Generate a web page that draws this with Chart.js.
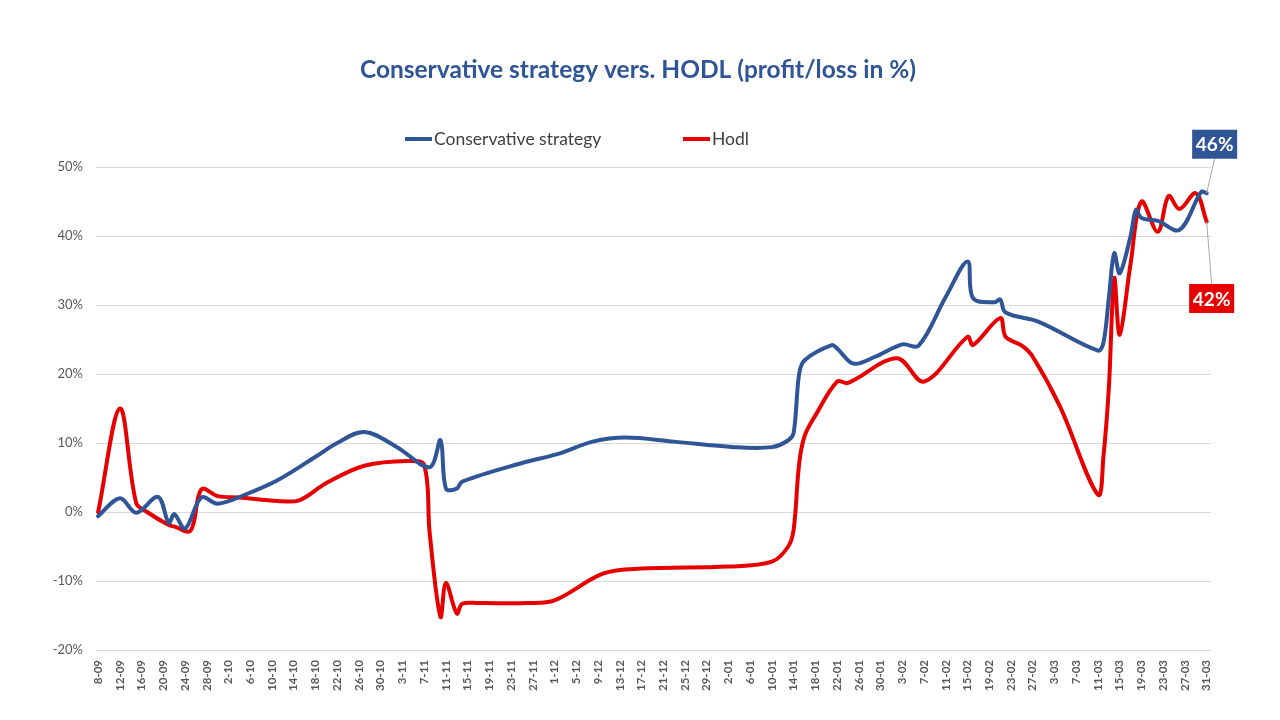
<!DOCTYPE html>
<html>
<head>
<meta charset="utf-8">
<script src="https://cdn.jsdelivr.net/npm/chart.js@4.4.1/dist/chart.umd.min.js"></script>
<style>
  html, body { margin: 0; padding: 0; background: #fff; }
  #wrap { width: 1280px; height: 720px; }
</style>
</head>
<body>
<div id="wrap"><canvas id="strategyChart" width="1280" height="720"></canvas></div>
<script>
// x axis tick labels (every 4 days)
const tickLabels = ['8-09', '12-09', '16-09', '20-09', '24-09', '28-09', '2-10', '6-10', '10-10', '14-10',
  '18-10', '22-10', '26-10', '30-10', '3-11', '7-11', '11-11', '15-11', '19-11', '23-11', '27-11',
  '1-12', '5-12', '9-12', '13-12', '17-12', '21-12', '25-12', '29-12', '2-01', '6-01', '10-01',
  '14-01', '18-01', '22-01', '26-01', '30-01', '3-02', '7-02', '11-02', '15-02', '19-02', '23-02',
  '27-02', '3-03', '7-03', '11-03', '15-03', '19-03', '23-03', '27-03', '31-03'];

const yTicks = [50, 40, 30, 20, 10, 0, -10, -20];

// Conservative strategy
const blueDates = ['8-09', '12-09', '15-09', '19-09', '21-09', '22-09', '24-09', '27-09', '30-09', '5-10',
  '11-10', '18-10', '22-10', '27-10', '2-11', '8-11', '10-11', '11-11', '13-11', '14-11', '25-11',
  '2-12', '8-12', '14-12', '23-12', '3-01', '10-01', '13-01', '14-01', '15-01', '16-01', '21-01',
  '22-01', '25-01', '29-01', '3-02', '6-02', '11-02', '15-02', '16-02', '20-02', '21-02', '22-02',
  '28-02', '11-03', '12-03', '13-03', '14-03', '15-03', '17-03', '18-03', '19-03', '22-03', '26-03',
  '30-03', '31-03'];
const blueValues = [-0.6, 2.0, -0.1, 2.2, -1.6, -0.3, -2.4, 2.1, 1.2, 2.5,
  4.6, 8.0, 10.0, 11.6, 9.4, 6.5, 10.4, 3.4, 3.4, 4.4, 7.1,
  8.5, 10.2, 10.8, 10.2, 9.4, 9.4, 10.4, 11.5, 20.0, 22.0, 24.2,
  23.7, 21.5, 22.5, 24.3, 24.1, 31.2, 36.3, 31.0, 30.4, 30.8, 28.9,
  27.6, 23.4, 24.5, 31.0, 37.5, 34.6, 40.0, 43.8, 42.6, 42.2, 40.9,
  46.4, 46.2];

// Hodl
const redDates = ['8-09', '12-09', '15-09', '17-09', '21-09', '22-09', '25-09', '27-09', '30-09', '4-10',
  '11-10', '15-10', '20-10', '27-10', '4-11', '7-11', '8-11', '10-11', '11-11', '13-11', '14-11',
  '17-11', '26-11', '1-12', '10-12', '17-12', '2-01', '10-01', '13-01', '14-01', '15-01', '16-01',
  '18-01', '22-01', '24-01', '2-02', '7-02', '15-02', '16-02', '21-02', '22-02', '25-02', '27-02',
  '4-03', '11-03', '12-03', '13-03', '14-03', '15-03', '17-03', '19-03', '22-03', '24-03', '26-03',
  '29-03', '31-03'];
const redValues = [0.0, 15.0, 1.3, 0.0, -1.9, -2.1, -2.7, 3.3, 2.3, 2.1,
  1.6, 1.7, 4.2, 6.7, 7.4, 6.8, -3.0, -15.2, -10.3, -14.7, -13.3,
  -13.2, -13.2, -12.8, -8.9, -8.2, -7.9, -7.2, -5.0, -2.5, 7.0, 11.0,
  14.0, 18.9, 18.7, 22.3, 18.9, 25.4, 24.2, 28.1, 25.4, 24.1, 22.5,
  15.3, 2.5, 8.0, 18.0, 33.9, 25.7, 36.0, 45.0, 40.6, 45.8, 43.9,
  46.2, 42.1];

const BLUE = '#2F5597';
const RED = '#E60000';
const FONT = 'Lato, "Liberation Sans", sans-serif';

// days since 8-09 (Sep–Dec in first year, Jan–Mar in the next)
function dayIndex(label) {
  const [d, m] = label.split('-').map(Number);
  const year = m >= 9 ? 2017 : 2018;
  return Math.round((Date.UTC(year, m - 1, d) - Date.UTC(2017, 8, 8)) / 86400000);
}

function toPoints(dates, values) {
  return dates.map((d, i) => ({ x: dayIndex(d), y: values[i] }));
}

// title, legend and end labels drawn like the Excel original
const decorPlugin = {
  id: 'decor',
  afterDraw(chart) {
    const ctx = chart.ctx;
    ctx.save();

    ctx.fillStyle = BLUE;
    ctx.font = 'bold 24.5px ' + FONT;
    ctx.textAlign = 'center';
    ctx.textBaseline = 'middle';
    ctx.fillText('Conservative strategy vers. HODL (profit/loss in %)', 638, 70);

    const legendItems = [{ x: 405, ds: 0 }, { x: 683, ds: 1 }];
    ctx.font = '17.5px ' + FONT;
    ctx.textAlign = 'left';
    legendItems.forEach(item => {
      const ds = chart.data.datasets[item.ds];
      ctx.strokeStyle = ds.borderColor;
      ctx.lineWidth = 4;
      ctx.beginPath();
      ctx.moveTo(item.x, 139);
      ctx.lineTo(item.x + 27, 139);
      ctx.stroke();
      ctx.fillStyle = '#404040';
      ctx.fillText(ds.label, item.x + 29, 139);
    });

    const endLabels = [{ ds: 0, dx: 8, dy: -49 }, { ds: 1, dx: 5, dy: 77 }];
    endLabels.forEach(lab => {
      const ds = chart.data.datasets[lab.ds];
      const meta = chart.getDatasetMeta(lab.ds);
      const pt = meta.data[meta.data.length - 1];
      const val = ds.data[ds.data.length - 1].y;
      const cx = pt.x + lab.dx, cy = pt.y + lab.dy;
      const w = 45, h = 29;
      ctx.strokeStyle = '#A6A6A6';
      ctx.lineWidth = 1;
      ctx.beginPath();
      ctx.moveTo(pt.x, pt.y);
      ctx.lineTo(cx, lab.dy < 0 ? cy + h / 2 : cy - h / 2);
      ctx.stroke();
      ctx.fillStyle = ds.borderColor;
      ctx.fillRect(cx - w / 2, cy - h / 2, w, h);
      ctx.fillStyle = '#fff';
      ctx.font = 'bold 19px ' + FONT;
      ctx.textAlign = 'center';
      ctx.fillText(Math.round(val) + '%', cx, cy + 1);
    });

    ctx.restore();
  }
};

const ctx = document.getElementById('strategyChart').getContext('2d');
new Chart(ctx, {
  type: 'line',
  data: {
    datasets: [
      {
        label: 'Conservative strategy',
        data: toPoints(blueDates, blueValues),
        borderColor: BLUE,
        borderWidth: 4,
        pointRadius: 0,
        tension: 0.35,
        borderJoinStyle: 'round',
        borderCapStyle: 'round'
      },
      {
        label: 'Hodl',
        data: toPoints(redDates, redValues),
        borderColor: RED,
        borderWidth: 4,
        pointRadius: 0,
        tension: 0.35,
        borderJoinStyle: 'round',
        borderCapStyle: 'round'
      }
    ]
  },
  options: {
    responsive: false,
    devicePixelRatio: 1,
    animation: false,
    layout: { padding: { top: 167, right: 69, left: 0, bottom: 0 } },
    plugins: {
      legend: { display: false },
      title: { display: false },
      tooltip: { enabled: false }
    },
    scales: {
      x: {
        type: 'linear',
        min: -0.4,
        max: 204.8,
        afterBuildTicks(scale) {
          scale.ticks = tickLabels.map(l => ({ value: dayIndex(l) }));
        },
        afterFit(scale) { scale.height = 70; },
        grid: { display: false },
        border: { display: false },
        ticks: {
          autoSkip: false,
          maxRotation: 90,
          minRotation: 90,
          padding: 2,
          color: '#595959',
          font: { family: FONT, size: 11.5, weight: 'bold' },
          callback: (v, i) => tickLabels[i]
        }
      },
      y: {
        min: -20,
        max: 50,
        afterBuildTicks(scale) {
          scale.ticks = yTicks.map(v => ({ value: v }));
        },
        afterFit(scale) { scale.width = 96; },
        grid: { color: '#D9D9D9', lineWidth: 1, drawTicks: false },
        border: { display: false },
        ticks: {
          padding: 13,
          color: '#595959',
          font: { family: FONT, size: 13 },
          callback: v => v + '%'
        }
      }
    }
  },
  plugins: [decorPlugin]
});
</script>
</body>
</html>
